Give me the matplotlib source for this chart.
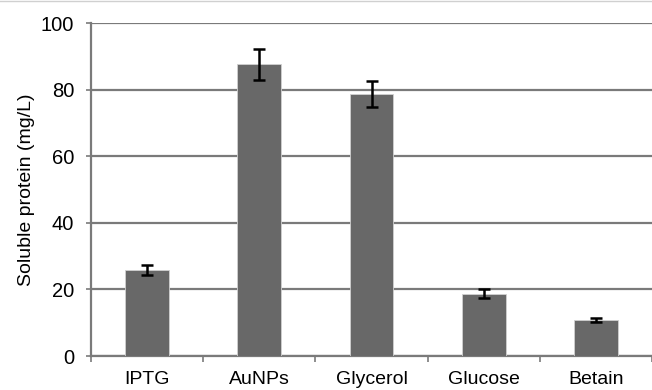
import numpy as np
import matplotlib.pyplot as plt
from matplotlib.lines import Line2D

# ── Data ──────────────────────────────────────────────────────────────────────
categories = ['IPTG', 'AuNPs', 'Glycerol', 'Glucose', 'Betain']
protein    = [25.8, 87.6, 78.7, 18.7, 10.8]   # mg/L
errors     = [1.5, 4.6, 4.0, 1.3, 0.7]
y_ticks    = [0, 20, 40, 60, 80, 100]

# ── Plot ──────────────────────────────────────────────────────────────────────
plt.rcParams['font.family'] = ['Liberation Sans', 'DejaVu Sans']

fig = plt.figure(figsize=(6.52, 3.9), dpi=100)
ax = fig.add_axes([0.1396, 0.087, 0.8604, 0.854])

x = np.arange(len(categories))
ax.bar(x, protein, width=0.39, color='#686868', edgecolor='#d0d0d0',
       linewidth=0.6, zorder=3)
ax.errorbar(x, protein, yerr=errors, fmt='none', ecolor='black',
            elinewidth=1.8, capsize=4, capthick=1.8, zorder=4)

ax.set_xlim(-0.5, len(categories) - 0.5)
ax.set_ylim(0, 100)
ax.set_yticks(y_ticks)
ax.yaxis.grid(True, color='#7a7a7a', linewidth=1.6, zorder=0)
ax.set_axisbelow(True)

# category labels centred, tick marks on the boundaries
ax.set_xticks(x)
ax.set_xticklabels(categories, fontsize=14)
ax.tick_params(axis='x', length=0, pad=11)
ax.set_xticks(np.arange(len(categories) + 1) - 0.5, minor=True)
ax.tick_params(axis='x', which='minor', length=4, width=1.2, color='#7a7a7a',
               direction='out')
ax.tick_params(axis='y', labelsize=14.5, length=3.6, width=1.2,
               color='#7a7a7a', pad=8.5)

for side in ['top', 'right']:
    ax.spines[side].set_visible(False)
ax.spines['left'].set_color('#7a7a7a')
ax.spines['left'].set_linewidth(1.6)
ax.spines['bottom'].set_color('#7a7a7a')
ax.spines['bottom'].set_linewidth(1.6)

ax.set_ylabel('Soluble protein (mg/L)', fontsize=14, labelpad=4)

# faint frame line along the top edge
fig.add_artist(Line2D([0, 1], [0.998, 0.998], transform=fig.transFigure,
                      color='#d0d0d0', linewidth=1))

plt.savefig('out.png', dpi=100)
